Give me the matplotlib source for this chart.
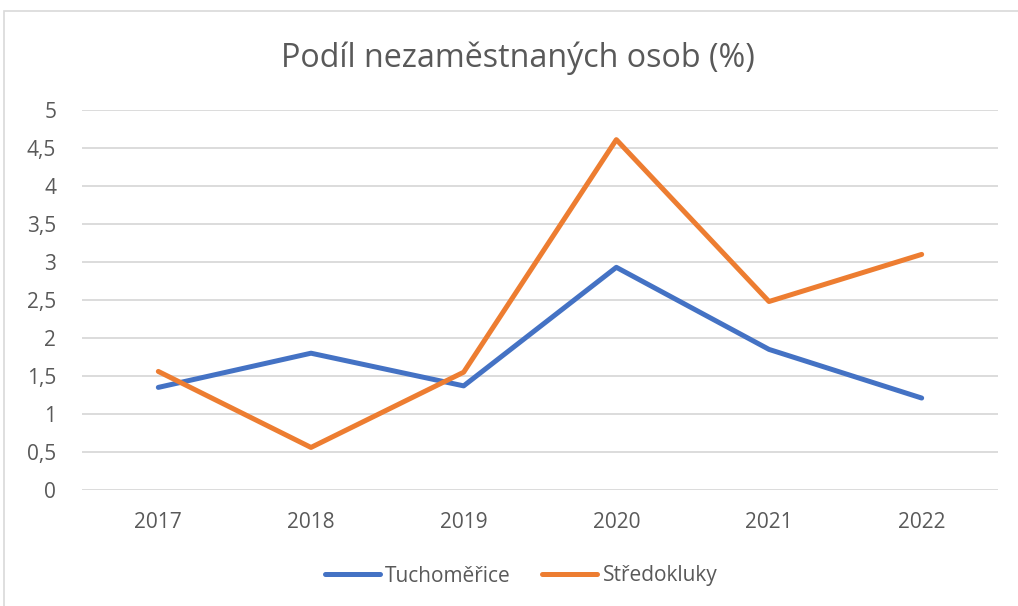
import matplotlib.pyplot as plt
from matplotlib.patches import Rectangle

years = ['2017', '2018', '2019', '2020', '2021', '2022']
tuchomerice = [1.35, 1.80, 1.37, 2.93, 1.85, 1.21]
stredokluky = [1.56, 0.56, 1.55, 4.61, 2.48, 3.10]
yticks = [0, 0.5, 1, 1.5, 2, 2.5, 3, 3.5, 4, 4.5, 5]
ylabels = ['0', '0,5', '1', '1,5', '2', '2,5', '3', '3,5', '4', '4,5', '5']

plt.rcParams['font.family'] = ['Open Sans', 'DejaVu Sans']
txt = '#595959'

fig = plt.figure(figsize=(10.18, 6.06), dpi=100)
# chart frame
fig.patches.append(Rectangle((4 / 1018, -0.1), 1.1, 1 - 11 / 606 + 0.1,
                             transform=fig.transFigure, fill=False,
                             edgecolor='#d9d9d9', linewidth=1.2))

ax = fig.add_axes([82 / 1018, 1 - 490 / 606, (998 - 82) / 1018, 380 / 606])
x = range(len(years))
ax.plot(x, tuchomerice, color='#4472C4', lw=3.6, solid_capstyle='round',
        solid_joinstyle='round', label='Tuchoměřice', zorder=3)
ax.plot(x, stredokluky, color='#ED7D31', lw=3.6, solid_capstyle='round',
        solid_joinstyle='round', label='Středokluky', zorder=3)

ax.set_xlim(-0.5, len(years) - 0.5)
ax.set_ylim(0, 5)
ax.set_xticks(list(x))
ax.set_xticklabels(years)
ax.set_yticks(yticks)
ax.set_yticklabels(ylabels)
ax.tick_params(length=0, labelsize=15, colors=txt)
ax.tick_params(axis='x', pad=16)
ax.tick_params(axis='y', pad=18.5)
ax.grid(axis='y', color='#d9d9d9', lw=1.3)
ax.set_axisbelow(True)
for s in ax.spines.values():
    s.set_visible(False)

fig.text(518 / 1018, 1 - 58 / 606, 'Podíl nezaměstnaných osob (%)', ha='center',
         va='center', fontsize=23.2, color=txt)

fig.legend(loc='center', bbox_to_anchor=(521 / 1018, 1 - 576 / 606), ncol=2,
           frameon=False, fontsize=15, handlelength=2.65, handletextpad=0.25,
           columnspacing=1.5, labelcolor=txt)

fig.savefig('out.png', dpi=100)
